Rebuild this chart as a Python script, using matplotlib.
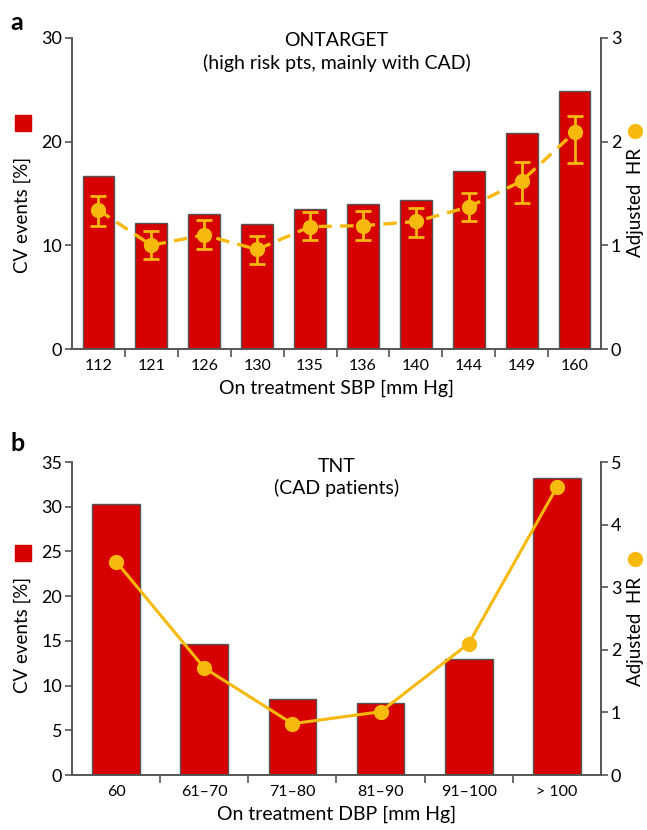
import matplotlib
matplotlib.use("Agg")
import matplotlib.pyplot as plt
from matplotlib.lines import Line2D
import numpy as np

plt.rcParams['font.family'] = ['Lato', 'DejaVu Sans']

# panel a - ONTARGET
sbp_labels = ['112', '121', '126', '130', '135', '136', '140', '144', '149', '160']
sbp_cv = [16.7, 12.2, 13.0, 12.1, 13.5, 14.0, 14.4, 17.2, 20.8, 24.9]
sbp_hr = [1.34, 1.00, 1.10, 0.96, 1.18, 1.19, 1.23, 1.37, 1.62, 2.09]
sbp_hr_lo = [1.19, 0.87, 0.96, 0.82, 1.05, 1.05, 1.08, 1.23, 1.41, 1.79]
sbp_hr_hi = [1.48, 1.14, 1.24, 1.09, 1.32, 1.33, 1.36, 1.50, 1.80, 2.25]

# panel b - TNT
dbp_labels = ['60', '61–70', '71–80', '81–90', '91–100', '> 100']
dbp_cv = [30.3, 14.7, 8.5, 8.0, 13.0, 33.2]
dbp_hr = [3.41, 1.71, 0.82, 1.01, 2.10, 4.60]

RED = '#d60000'
YEL = '#f7b90d'
GREY = '#555555'

fig = plt.figure(figsize=(6.47, 8.3), dpi=100)


def style(ax, ax2, ylim, ylim2, yticks, yticks2, n):
    for a in (ax, ax2):
        a.spines['top'].set_visible(False)
        for s in ('left', 'right', 'bottom'):
            a.spines[s].set_color(GREY)
            a.spines[s].set_linewidth(1.2)
    ax.set_xlim(-0.5, n - 0.5)
    ax.set_ylim(*ylim)
    ax2.set_ylim(*ylim2)
    ax.set_yticks(yticks)
    ax2.set_yticks(yticks2)
    ax.set_xticks(np.arange(n))
    ax.set_xticks(np.arange(n - 1) + 0.5, minor=True)
    ax.tick_params(axis='x', which='major', length=0, labelsize=11.5, pad=7)
    ax.tick_params(axis='x', which='minor', length=6, width=1.2, color=GREY, direction='out')
    ax.tick_params(axis='y', length=5, width=1.2, color=GREY, labelsize=13, pad=2)
    ax2.tick_params(axis='y', length=5, width=1.2, color=GREY, labelsize=13, pad=2)


# ---------- a ----------
axa = fig.add_axes([72 / 647, 1 - 349 / 830, 529 / 647, 311 / 830])
axa2 = axa.twinx()
xa = np.arange(len(sbp_labels))
axa.bar(xa, sbp_cv, width=0.6, color=RED, edgecolor=GREY, linewidth=1.0, zorder=2)
yerr = [np.array(sbp_hr) - np.array(sbp_hr_lo), np.array(sbp_hr_hi) - np.array(sbp_hr)]
axa2.errorbar(xa, sbp_hr, yerr=yerr, fmt='none', ecolor=YEL, elinewidth=2, capsize=6, capthick=2, zorder=3)
axa2.plot(xa, sbp_hr, color=YEL, lw=2.4, ls=(0, (4, 2.5)), marker='o', ms=10, zorder=4)
axa.set_xticklabels(sbp_labels)
style(axa, axa2, (0, 30), (0, 3), [0, 10, 20, 30], [0, 1, 2, 3], len(sbp_labels))
axa.set_xlabel('On treatment SBP [mm Hg]', fontsize=14, labelpad=5)
axa.set_ylabel('CV events [%]', fontsize=13.5)
axa.yaxis.set_label_coords(-0.078, 0.43)
axa2.set_ylabel('Adjusted  HR', fontsize=13.5)
axa2.yaxis.set_label_coords(1.05, 0.47)
axa.set_title('ONTARGET\n(high risk pts, mainly with CAD)', fontsize=14, y=0.875, linespacing=1.3)

# ---------- b ----------
axb = fig.add_axes([72 / 647, 1 - 775 / 830, 529 / 647, 313 / 830])
axb2 = axb.twinx()
xb = np.arange(len(dbp_labels))
axb.bar(xb, dbp_cv, width=0.54, color=RED, edgecolor=GREY, linewidth=1.0, zorder=2)
axb2.plot(xb, dbp_hr, color=YEL, lw=2.2, marker='o', ms=10, zorder=4)
axb.set_xticklabels(dbp_labels)
style(axb, axb2, (0, 35), (0, 5), np.arange(0, 36, 5), np.arange(0, 6), len(dbp_labels))
axb.set_xlabel('On treatment DBP [mm Hg]', fontsize=14, labelpad=5)
axb.set_ylabel('CV events [%]', fontsize=13.5)
axb.yaxis.set_label_coords(-0.078, 0.447)
axb2.set_ylabel('Adjusted  HR', fontsize=13.5)
axb2.yaxis.set_label_coords(1.05, 0.46)
axb.set_title('TNT\n(CAD patients)', fontsize=14, y=0.87, linespacing=1.3)

# panel letters and legend symbols
fig.text(10 / 647, 1 - 22 / 830, 'a', fontsize=18, fontweight='bold', va='center')
fig.text(10 / 647, 1 - 443 / 830, 'b', fontsize=18, fontweight='bold', va='center')
for y in (123, 553):
    fig.add_artist(Line2D([23 / 647], [1 - y / 830], marker='s', ms=12, color=RED,
                          mec=RED, ls='none', transform=fig.transFigure))
for y in (131, 559):
    fig.add_artist(Line2D([635 / 647], [1 - y / 830], marker='o', ms=10, color=YEL,
                          mec=YEL, ls='none', transform=fig.transFigure))

fig.savefig('out.png', dpi=100)
